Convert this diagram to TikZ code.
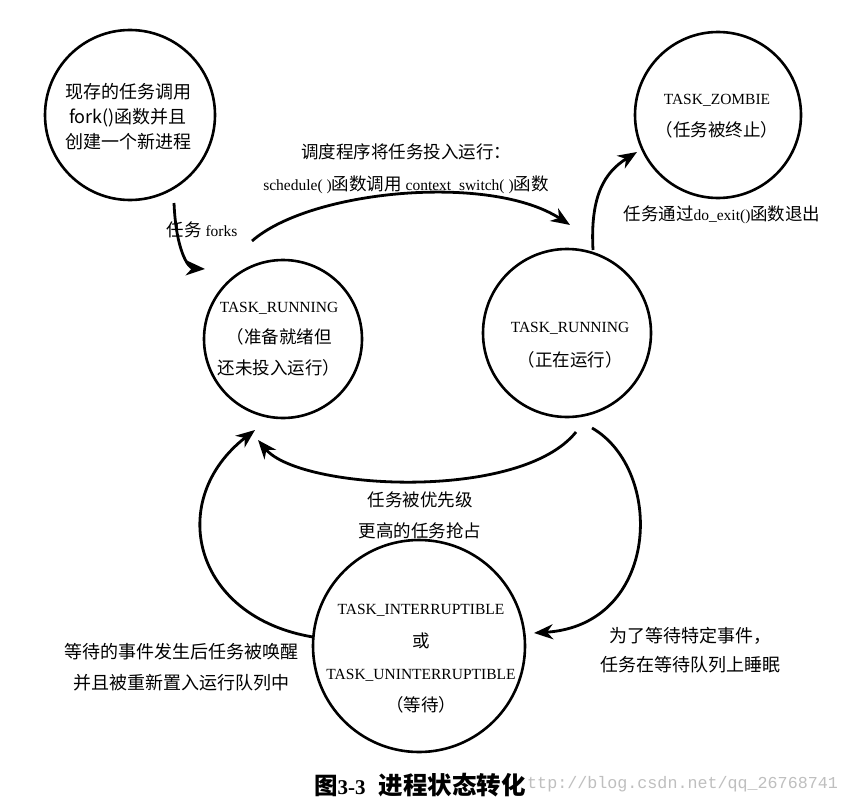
\documentclass[tikz,border=0pt]{standalone}
\usepackage{fontspec}
\setmainfont{Liberation Serif}
\newfontfamily\cjk{Noto Sans CJK SC}
\newfontfamily\wmfont{Liberation Mono}
\usetikzlibrary{arrows.meta,calc}
\newcommand\zh[1]{{\cjk\fontsize{17.5}{\baselineskip}\selectfont #1}}
\begin{document}
\begin{tikzpicture}[x=1pt,y=-1pt,
  st/.style={circle,draw,line width=2.6pt,inner sep=0pt,minimum size=#1},
  txt/.style={align=center,inner sep=0pt,font=\fontsize{15.5}{#1}\selectfont},
  arr/.style={line width=2.8pt,-{Stealth[length=19pt,width=15pt,inset=6pt]}},
]
\useasboundingbox[fill=white] (0,0) rectangle (850,808);

% states
\node[st=170pt] (fork) at (130,115) {};
\node[st=166pt] (zombie) at (718,115) {};
\node[st=158pt] (ready) at (283,339) {};
\node[st=168pt] (run) at (567,333) {};
\node[st=212pt] (wait) at (419,646) {};

% state texts
\node[align=center,inner sep=0pt,font=\cjk\fontsize{18}{25}\selectfont] (forkt) at (128,117)
  {现存的任务调用\\fork()函数并且\\创建一个新进程};
\node[txt=32] (zombiet) at (717,116) {TASK\_ZOMBIE\\\zh{（任务被终止）}};
\node[txt=31] (readyt) at (279,339) {TASK\_RUNNING\\\zh{（准备就绪但}\\\zh{还未投入运行）}};
\node[txt=34] (runt) at (570,345) {TASK\_RUNNING\\\zh{（正在运行）}};
\node[txt=32.3] (waitt) at (421,659) {TASK\_INTERRUPTIBLE\\\zh{或}\\TASK\_UNINTERRUPTIBLE\\\zh{（等待）}};

% labels
\node[txt=32] (schedl) at (406,169) {\zh{调度程序将任务投入运行：}\\schedule( )\zh{函数调用} context\_switch( )\zh{函数}};
\node[txt=32] (forkl) at (202,230) {\zh{任务} forks};
\node[txt=32] (exitl) at (722,215) {\zh{任务通过}do\_exit()\zh{函数退出}};
\node[txt=31] (preeml) at (420,515.5) {\zh{任务被优先级}\\\zh{更高的任务抢占}};
\node[txt=31,font=\cjk\fontsize{18}{31}\selectfont] (wakel) at (181,667.5) {等待的事件发生后任务被唤醒\\并且被重新置入运行队列中};
\node[txt=29,font=\cjk\fontsize{18}{29}\selectfont] (sleepl) at (690,650) {为了等待特定事件，\\任务在等待队列上睡眠};

% connectors
\draw[arr] ($(fork)+(44,88)$) .. controls +(2,47) and +(-17,-1) .. ($(ready)+(-78,-70)$);
\draw[arr] ($(ready)+(-31,-98)$) .. controls +(58,-51) and +(-80,-52) .. ($(run)+(3,-108)$);
\draw[arr] ($(run)+(26,-83)$) .. controls +(-3,-55) and +(-32,20) .. ($(zombie)+(-81,37)$);
\draw[arr] ($(run)+(9,99)$) .. controls +(-56,70) and +(42,50) .. ($(ready)+(-25,101)$);
\draw[arr] ($(run)+(25,95)$) .. controls +(73,42) and +(126,-8) .. ($(wait)+(115,-13)$);
\draw[arr] ($(wait)+(-106,-9)$) .. controls +(-120,-20) and +(-90,70) .. ($(ready)+(-28,91)$);

% caption and watermark
\node[anchor=west,inner sep=0pt,text=black!25,font=\wmfont\fontsize{16.7}{20}\selectfont] (wm) at (517,784) {http://blog.csdn.net/qq\_26768741};
\node[anchor=west,inner sep=1pt,fill=white,font=\bfseries] (cap) at (313,785)
  {{\cjk\fontsize{23.5}{26}\selectfont 图}{\fontsize{21}{26}\selectfont 3-3}\hspace{13pt}{\cjk\fontsize{24.5}{26}\selectfont 进程状态转化}};
\end{tikzpicture}
\end{document}
